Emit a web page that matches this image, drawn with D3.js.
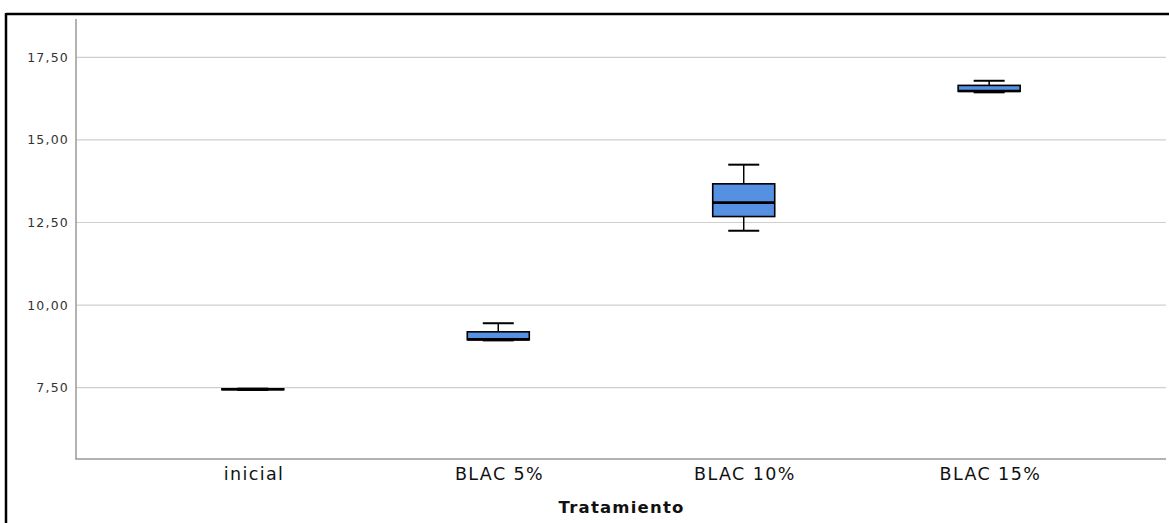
<!DOCTYPE html>
<html>
<head>
<meta charset="utf-8">
<script src="https://cdn.jsdelivr.net/npm/d3@7"></script>
<style>
  html, body { margin: 0; padding: 0; background: #fff; }
  svg { display: block; }
</style>
</head>
<body>
<svg id="chart" width="1169" height="523"></svg>
<script>
// Treatment groups and five-number summaries
const categories = ["inicial", "BLAC 5%", "BLAC 10%", "BLAC 15%"];
const mins    = [7.43, 8.93, 12.25, 16.44];
const q1s     = [7.44, 8.95, 12.68, 16.47];
const medians = [7.45, 8.96, 13.10, 16.48];
const q3s     = [7.46, 9.19, 13.67, 16.65];
const maxs    = [7.47, 9.45, 14.25, 16.79];

const yTicks = [7.5, 10, 12.5, 15, 17.5];
const yTickLabels = ["7,50", "10,00", "12,50", "15,00", "17,50"];
const xTitle = "Tratamiento";

const svg = d3.select("#chart");

const plot = { left: 76, right: 1166, top: 19, bottom: 459 };

const x = d3.scalePoint()
  .domain(categories)
  .range([plot.left, plot.right])
  .padding(0.7205);

const y = d3.scaleLinear()
  .domain([5.34, 18.66])
  .range([plot.bottom, plot.top]);

// Outer frame (top and left edges)
svg.append("line").attr("x1", 6).attr("x2", 1169).attr("y1", 14).attr("y2", 14)
  .attr("stroke", "#000").attr("stroke-width", 2.5);
svg.append("line").attr("x1", 6).attr("x2", 6).attr("y1", 13).attr("y2", 523)
  .attr("stroke", "#000").attr("stroke-width", 2.5);

// Horizontal gridlines
svg.append("g")
  .selectAll("line")
  .data(yTicks)
  .join("line")
  .attr("x1", plot.left).attr("x2", plot.right)
  .attr("y1", d => y(d)).attr("y2", d => y(d))
  .attr("stroke", "#cfcfcf").attr("stroke-width", 1.2);

// Y axis with comma decimal labels
const yAxis = d3.axisLeft(y)
  .tickValues(yTicks)
  .tickSize(0)
  .tickPadding(7)
  .tickFormat((d, i) => yTickLabels[i]);

const gy = svg.append("g")
  .attr("transform", `translate(${plot.left},0)`)
  .call(yAxis);
gy.select(".domain").remove();
gy.selectAll("text")
  .attr("font-family", "DejaVu Sans, Verdana, sans-serif")
  .attr("font-size", 12.5)
  .attr("letter-spacing", "1.2px")
  .attr("fill", "#333");

svg.append("line")
  .attr("x1", plot.left).attr("x2", plot.left)
  .attr("y1", plot.top).attr("y2", plot.bottom)
  .attr("stroke", "#999").attr("stroke-width", 1.5);

// X axis
const xAxis = d3.axisBottom(x).tickSize(0).tickPadding(9);
const gx = svg.append("g")
  .attr("transform", `translate(0,${plot.bottom})`)
  .call(xAxis);
gx.select(".domain").remove();
gx.selectAll("text")
  .attr("font-family", "DejaVu Sans, Verdana, sans-serif")
  .attr("font-size", 17.5)
  .attr("letter-spacing", "1.4px")
  .attr("dx", "0.7px")
  .attr("fill", "#111");

svg.append("line")
  .attr("x1", plot.left - 0.75).attr("x2", plot.right)
  .attr("y1", plot.bottom).attr("y2", plot.bottom)
  .attr("stroke", "#999").attr("stroke-width", 1.5);

svg.append("text")
  .attr("x", (plot.left + plot.right) / 2 + 0.6)
  .attr("y", 513)
  .attr("text-anchor", "middle")
  .attr("font-family", "DejaVu Sans, Verdana, sans-serif")
  .attr("font-weight", "bold")
  .attr("font-size", 16.5)
  .attr("letter-spacing", "1.2px")
  .attr("fill", "#111")
  .text(xTitle);

// Box plots
const boxW = 62, capW = 31;
const stats = categories.map((c, i) => ({
  cat: c, min: mins[i], q1: q1s[i], med: medians[i], q3: q3s[i], max: maxs[i]
}));

const boxes = svg.append("g").selectAll("g")
  .data(stats)
  .join("g")
  .attr("transform", d => `translate(${x(d.cat)},0)`);

// whisker stems
boxes.append("line")
  .attr("x1", 0).attr("x2", 0)
  .attr("y1", d => y(d.max)).attr("y2", d => y(d.q3))
  .attr("stroke", "#000").attr("stroke-width", 1.5);
boxes.append("line")
  .attr("x1", 0).attr("x2", 0)
  .attr("y1", d => y(d.q1)).attr("y2", d => y(d.min))
  .attr("stroke", "#000").attr("stroke-width", 1.5);

// whisker caps
boxes.append("line")
  .attr("x1", -capW / 2).attr("x2", capW / 2)
  .attr("y1", d => y(d.max)).attr("y2", d => y(d.max))
  .attr("stroke", "#000").attr("stroke-width", 2);
boxes.append("line")
  .attr("x1", -capW / 2).attr("x2", capW / 2)
  .attr("y1", d => y(d.min)).attr("y2", d => y(d.min))
  .attr("stroke", "#000").attr("stroke-width", 2);

// interquartile box
boxes.append("rect")
  .attr("x", -boxW / 2)
  .attr("width", boxW)
  .attr("y", d => y(d.q3))
  .attr("height", d => Math.max(0.5, y(d.q1) - y(d.q3)))
  .attr("fill", "#5590e2")
  .attr("stroke", "#000")
  .attr("stroke-width", 1.6);

// median
boxes.append("line")
  .attr("x1", -boxW / 2).attr("x2", boxW / 2)
  .attr("y1", d => y(d.med)).attr("y2", d => y(d.med))
  .attr("stroke", "#000").attr("stroke-width", 2.6);
</script>
</body>
</html>
